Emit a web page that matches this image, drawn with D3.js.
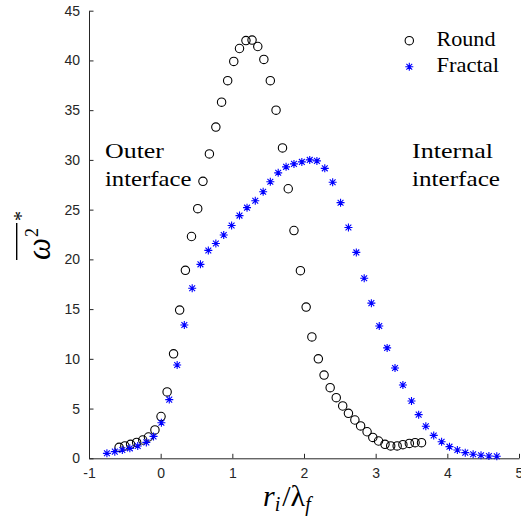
<!DOCTYPE html>
<html>
<head>
<meta charset="utf-8">
<script src="https://cdn.jsdelivr.net/npm/d3@7"></script>
<style>
  body { margin: 0; background: #fff; }
  svg { display: block; }
</style>
</head>
<body>
<script>
// values
var roundX = [-0.58, -0.50, -0.42, -0.335, -0.25, -0.17, -0.08, 0.005, 0.09, 0.18,
  0.265, 0.345, 0.43, 0.517, 0.59, 0.68, 0.77, 0.85, 0.935, 1.02,
  1.10, 1.19, 1.275, 1.355, 1.44, 1.53, 1.61, 1.70, 1.78, 1.86,
  1.95, 2.03, 2.11, 2.20, 2.28, 2.365, 2.45, 2.54, 2.62, 2.71,
  2.79, 2.88, 2.96, 3.04, 3.13, 3.21, 3.30, 3.38, 3.47, 3.55, 3.64]
var roundY = [1.1, 1.24, 1.4, 1.6, 1.84, 2.14, 2.85, 4.2, 6.67, 10.5,
  14.9, 18.9, 22.3, 25.1, 27.85, 30.6, 33.3, 35.8, 37.96, 39.9,
  41.2, 42.0, 42.05, 41.4, 40.1, 37.96, 35.0, 31.2, 27.1, 22.9,
  18.86, 15.2, 12.2, 10.0, 8.37, 7.1, 6.1, 5.26, 4.52, 3.85,
  3.25, 2.67, 2.1, 1.74, 1.4, 1.24, 1.24, 1.37, 1.5, 1.57, 1.57]

var fractalX = [-0.75, -0.64, -0.535, -0.43, -0.32, -0.20, -0.10, 0.01, 0.12, 0.23,
  0.33, 0.44, 0.555, 0.665, 0.77, 0.88, 0.99, 1.10, 1.205, 1.32,
  1.43, 1.53, 1.64, 1.75, 1.86, 1.97, 2.08, 2.18, 2.29, 2.40,
  2.51, 2.62, 2.73, 2.84, 2.94, 3.05, 3.16, 3.27, 3.38, 3.50,
  3.60, 3.70, 3.81, 3.92, 4.03, 4.14, 4.25, 4.36, 4.47, 4.58, 4.69]
var fractalY = [0.5, 0.67, 0.83, 1.0, 1.24, 1.6, 2.2, 3.58, 5.9, 9.38,
  13.4, 17.1, 19.5, 20.9, 21.6, 22.45, 23.4, 24.4, 25.2, 25.9,
  26.8, 27.8, 28.7, 29.3, 29.6, 29.8, 30.0, 29.9, 29.15, 27.75,
  25.7, 23.2, 20.7, 18.1, 15.6, 13.3, 11.1, 9.08, 7.37, 5.76,
  4.39, 3.22, 2.3, 1.67, 1.17, 0.83, 0.57, 0.4, 0.3, 0.23, 0.2]

var xTicks = [-1, 0, 1, 2, 3, 4, 5]
var yTicks = [0, 5, 10, 15, 20, 25, 30, 35, 40, 45]
var legendNames = ["Round", "Fractal"]

var width = 521
var height = 525
var axisCol = "#262626"
var serif = "'Liberation Serif', 'Times New Roman', serif"

var svg = d3.select("body").append("svg")
  .attr("width", width)
  .attr("height", height)

var x = d3.scaleLinear().domain([-1, 5]).range([89, 519])
var y = d3.scaleLinear().domain([0, 45]).range([458.3, 10.7])

// axes, matlab style: ticks inward, no box
var plain = function(d) { return String(d) }
svg.append("g")
  .attr("transform", "translate(0," + y(0) + ")")
  .call(d3.axisBottom(x).tickValues(xTicks).tickFormat(plain).tickSizeInner(-4.5).tickSizeOuter(0).tickPadding(10))
svg.append("g")
  .attr("transform", "translate(" + x(-1) + ",0)")
  .call(d3.axisLeft(y).tickValues(yTicks).tickFormat(plain).tickSizeInner(-4.5).tickSizeOuter(0).tickPadding(9))

svg.selectAll(".domain, .tick line").attr("stroke", axisCol).attr("stroke-width", 1)
svg.selectAll(".tick text")
  .attr("fill", axisCol)
  .attr("font-family", "'Liberation Sans', Arial, sans-serif")
  .attr("font-size", "14px")

// markers
var star = "M-4,0H4M0,-4V4M-2.9,-2.9L2.9,2.9M-2.9,2.9L2.9,-2.9"

svg.append("g").selectAll("circle")
  .data(d3.zip(roundX, roundY))
  .enter()
  .append("circle")
  .attr("cx", function(d) { return x(d[0]) })
  .attr("cy", function(d) { return y(d[1]) })
  .attr("r", 4.2)
  .attr("fill", "none")
  .attr("stroke", "#000")
  .attr("stroke-width", 1.1)

svg.append("g").selectAll("path")
  .data(d3.zip(fractalX, fractalY))
  .enter()
  .append("path")
  .attr("transform", function(d) { return "translate(" + x(d[0]) + "," + y(d[1]) + ")" })
  .attr("d", star)
  .attr("fill", "none")
  .attr("stroke", "#0000ff")
  .attr("stroke-width", 1.1)

// legend
var leg = svg.append("g")
leg.append("circle")
  .attr("cx", 409.3).attr("cy", 40.7).attr("r", 4.2)
  .attr("fill", "none").attr("stroke", "#000").attr("stroke-width", 1.1)
leg.append("path")
  .attr("transform", "translate(409.3,66.7)")
  .attr("d", star).attr("fill", "none").attr("stroke", "#0000ff").attr("stroke-width", 1.1)
leg.selectAll("text")
  .data(legendNames)
  .enter()
  .append("text")
  .attr("x", 436.5)
  .attr("y", function(d, i) { return 45.5 + i * 26 })
  .attr("font-family", serif)
  .attr("font-size", "21px")
  .attr("textLength", function(d, i) { return i == 0 ? 59 : 62.5 })
  .attr("lengthAdjust", "spacingAndGlyphs")
  .text(function(d) { return d })

// annotations
var notes = [
  { x: 105, y: 158, t: "Outer", w: 59 },
  { x: 105, y: 186, t: "interface", w: 86.5 },
  { x: 412, y: 158, t: "Internal", w: 81 },
  { x: 412, y: 186, t: "interface", w: 88 }
]
svg.selectAll(".note")
  .data(notes)
  .enter()
  .append("text")
  .attr("class", "note")
  .attr("x", function(d) { return d.x })
  .attr("y", function(d) { return d.y })
  .attr("font-family", serif)
  .attr("font-size", "22px")
  .attr("textLength", function(d) { return d.w })
  .attr("lengthAdjust", "spacingAndGlyphs")
  .text(function(d) { return d.t })

// x label r_i / lambda_f
var xl = svg.append("text")
  .attr("x", 263)
  .attr("y", 506)
  .attr("font-family", serif)
  .attr("font-size", "30px")
xl.append("tspan").attr("font-style", "italic").text("r")
xl.append("tspan").attr("font-style", "italic").attr("font-size", "20px").attr("dy", 5).text("i")
xl.append("tspan").attr("dy", -5).attr("dx", 2).text("/")
xl.append("tspan").text("λ")
xl.append("tspan").attr("font-style", "italic").attr("font-size", "20px").attr("dy", 5).text("f")

// y label: overline omega^2 with star
var yl = svg.append("g").attr("transform", "translate(50,260) rotate(-90)")
yl.append("text")
  .attr("x", 0).attr("y", 0)
  .attr("font-family", serif)
  .attr("font-style", "italic")
  .attr("font-size", "34px")
  .attr("textLength", 22)
  .attr("lengthAdjust", "spacingAndGlyphs")
  .text("ω")
yl.append("text")
  .attr("x", 23).attr("y", -12)
  .attr("font-family", serif)
  .attr("font-size", "18px")
  .text("2")
yl.append("line")
  .attr("x1", 0).attr("x2", 37)
  .attr("y1", -33.3).attr("y2", -33.3)
  .attr("stroke", "#000").attr("stroke-width", 1.4)
yl.append("text")
  .attr("x", 39).attr("y", -22)
  .attr("font-family", serif)
  .attr("font-size", "20px")
  .text("*")
</script>
</body>
</html>
